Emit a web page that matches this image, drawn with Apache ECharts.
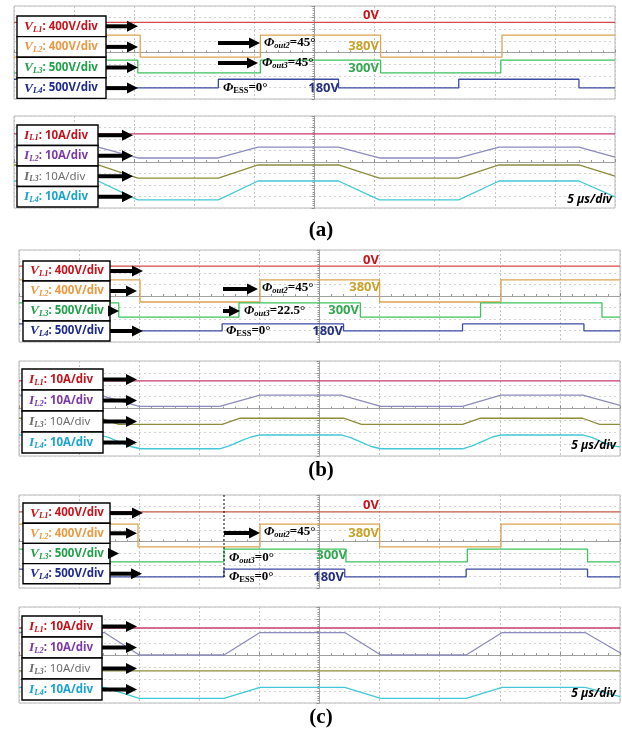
<!DOCTYPE html>
<html><head><meta charset="utf-8">
<script src="https://cdn.jsdelivr.net/npm/echarts@6/dist/echarts.min.js"></script>
<style>html,body{margin:0;padding:0;background:#fff}#c{width:622px;height:733px}</style>
</head><body><div id="c"></div>
<script>
// ===== DATA: time in µs (5 µs/div, 10 div), level in divisions from the bottom of each screen (8 div) =====
// ---- (a) voltages (step traces: transition times / levels) ----
const A_VL1_t = [0, 50];                               const A_VL1_v = [6.6, 6.6];
const A_VL2_t = [0, 0.4, 10.5, 20.5, 30.5, 40.6, 50];  const A_VL2_v = [3.6, 5.5, 3.6, 5.5, 3.6, 5.5, 5.5];
const A_VL3_t = [0, 0.4, 10.3, 20.5, 30.5, 40.5, 50];  const A_VL3_v = [2.25, 3.35, 2.25, 3.35, 2.25, 3.35, 3.35];
const A_VL4_t = [0, 7.0, 17.0, 27.0, 37.0, 47.0, 50];  const A_VL4_v = [1.7, 0.95, 1.7, 0.95, 1.7, 0.95, 0.95];
// ---- (a) currents (corner points) ----
const A_IL1_t = [0, 50];  const A_IL1_v = [6.45, 6.45];
const A_IL_t  = [0, 7.0, 10.3, 17.0, 20.3, 27.0, 30.4, 37.0, 40.35, 47.0, 50];
const A_IL2_v = [5.3, 5.3, 4.35, 4.35, 5.3, 5.3, 4.35, 4.35, 5.3, 5.3, 4.43];
const A_IL3_v = [3.74, 3.74, 2.6, 2.6, 3.74, 3.74, 2.6, 2.6, 3.74, 3.74, 2.78];
const A_IL4_v = [2.35, 2.35, 0.7, 0.7, 2.35, 2.35, 0.7, 0.7, 2.35, 2.35, 0.96];

// ---- (b) voltages ----
const B_VL1_t = [0, 50];                               const B_VL1_v = [6.6, 6.6];
const B_VL2_t = [0, 10.07, 20.05, 30.0, 40.1, 50];     const B_VL2_v = [5.4, 3.48, 5.4, 3.48, 5.4, 5.4];
const B_VL3_t = [0, 8.3, 18.3, 28.4, 38.4, 48.5, 50];  const B_VL3_v = [3.4, 2.17, 3.4, 2.17, 3.4, 2.17, 2.17];
const B_VL4_t = [0, 6.9, 16.9, 27.0, 36.9, 47.0, 50];  const B_VL4_v = [1.57, 0.96, 1.57, 0.96, 1.57, 0.96, 0.96];
// ---- (b) currents ----
const B_IL1_t = [0, 50];  const B_IL1_v = [6.32, 6.32];
const B_IL2_t = [0, 6.7, 10.0, 16.7, 20.05, 26.8, 30.1, 36.9, 40.1, 46.9, 50];
const B_IL2_v = [5.13, 5.13, 4.18, 4.18, 5.13, 5.13, 4.18, 4.18, 5.13, 5.13, 4.27];
const B_IL3_t = [0, 6.8, 8.3, 16.9, 18.4, 27.0, 28.5, 36.9, 38.4, 46.9, 48.3, 50];
const B_IL3_v = [3.18, 3.18, 2.66, 2.66, 3.18, 3.18, 2.66, 2.66, 3.18, 3.18, 2.66, 2.66];
const B_IL4_t = [0, 6.7, 7.5, 8.5, 9.3, 10.1, 16.7, 17.5, 18.5, 19.3, 20.05, 26.8, 27.6, 28.6, 29.3, 30.1, 36.9, 37.7, 38.7, 39.4, 40.1, 46.9, 47.7, 48.7, 49.4, 50];
const B_IL4_v = [1.77, 1.77, 1.55, 1.1, 0.8, 0.61, 0.61, 0.85, 1.3, 1.6, 1.77, 1.77, 1.55, 1.1, 0.8, 0.61, 0.61, 0.85, 1.3, 1.6, 1.77, 1.77, 1.55, 1.1, 0.85, 0.76];

// ---- (c) voltages ----
const C_VL1_t = [0, 50];                               const C_VL1_v = [6.54, 6.54];
const C_VL2_t = [0, 9.9, 20.05, 30.0, 40.1, 50];       const C_VL2_v = [5.5, 3.53, 5.5, 3.53, 5.5, 5.5];
const C_VL3_t = [0, 7.2, 17.05, 27.2, 37.3, 47.3, 50]; const C_VL3_v = [3.35, 2.24, 3.35, 2.24, 3.35, 2.24, 2.24];
const C_VL4_t = [0, 7.1, 17.05, 27.1, 37.2, 47.3, 50]; const C_VL4_v = [1.63, 0.95, 1.63, 0.95, 1.63, 0.95, 0.95];
// ---- (c) currents ----
const C_IL1_t = [0, 50];  const C_IL1_v = [6.25, 6.25];
const C_IL_t  = [0, 7.1, 10.0, 17.05, 20.05, 27.1, 30.1, 37.2, 40.2, 47.1, 50];
const C_IL2_v = [5.87, 5.87, 4.0, 4.0, 5.87, 5.87, 4.0, 4.0, 5.87, 5.87, 4.19];
const C_IL4_v = [1.3, 1.3, 0.38, 0.38, 1.3, 1.3, 0.38, 0.38, 1.3, 1.3, 0.54];
const C_IL3_t = [0, 17.3, 17.45, 17.6, 27.4, 27.55, 27.7, 37.4, 37.55, 37.7, 47.5, 47.65, 47.8, 50];
const C_IL3_v = [2.67, 2.67, 2.8, 2.67, 2.67, 2.55, 2.67, 2.67, 2.8, 2.67, 2.67, 2.55, 2.67, 2.67];

// ---- texts ----
const LEG_V = [['V','L1',': 400V/div'],['V','L2',': 400V/div'],['V','L3',': 500V/div'],['V','L4',': 500V/div']];
const LEG_I = [['I','L1',': 10A/div'],['I','L2',': 10A/div'],['I','L3',': 10A/div'],['I','L4',': 10A/div']];
const TIME_DIV = '5 µs/div';
const PANEL_TAGS = ['(a)', '(b)', '(c)'];

// ===== STYLE / LAYOUT =====
const COL_V_TXT = ['#c8141c', '#ea9a45', '#22a04a', '#1f2a8e'];
const COL_I_TXT = ['#c0141c', '#7b3aa6', '#6e6e6e', '#1aa3cf'];
const COL_V_LINE = ['#d54a4a', '#dca352', '#3cc25e', '#3d4aa2'];
const COL_I_LINE = ['#c83a6e', '#8c8cbc', '#8c8c3c', '#42c8d6'];

const grids = [
  {left: 14, top: 6,   width: 601, height: 93},
  {left: 14, top: 116, width: 601, height: 92},
  {left: 19, top: 250, width: 601, height: 92},
  {left: 19, top: 361, width: 601, height: 95},
  {left: 19, top: 495, width: 601, height: 93},
  {left: 19, top: 607, width: 601, height: 96}
];

const xAxes = [], yAxes = [];
grids.forEach((g, i) => {
  xAxes.push({gridIndex: i, type: 'value', min: 0, max: 50, interval: 5, position: 'top',
    axisLine: {show: false, onZero: false}, axisTick: {show: false}, axisLabel: {show: false},
    splitLine: {show: true, lineStyle: {color: '#c4c4c4', type: [2, 2], width: 1}}});
  xAxes.push({gridIndex: i, type: 'value', min: -25, max: 25, interval: 5, position: 'bottom',
    axisLine: {show: true, onZero: true, onZeroAxisIndex: 2 * i + 1, lineStyle: {color: '#a0a0a0', width: 1}},
    axisTick: {show: true, inside: true, length: 3, lineStyle: {color: '#909090'}},
    minorTick: {show: true, splitNumber: 5, length: 2, lineStyle: {color: '#9a9a9a'}},
    axisLabel: {show: false}, splitLine: {show: false}});
  yAxes.push({gridIndex: i, type: 'value', min: 0, max: 8, interval: 1, position: 'left',
    axisLine: {show: false, onZero: false}, axisTick: {show: false}, axisLabel: {show: false},
    splitLine: {show: true, lineStyle: {color: '#d2d2d2', type: [2, 3], width: 1}}});
  yAxes.push({gridIndex: i, type: 'value', min: -4, max: 4, interval: 1, position: 'right',
    axisLine: {show: true, onZero: true, onZeroAxisIndex: 2 * i + 1, lineStyle: {color: '#a0a0a0', width: 1}},
    axisTick: {show: true, inside: true, length: 3, lineStyle: {color: '#909090'}},
    minorTick: {show: true, splitNumber: 5, length: 2, lineStyle: {color: '#9a9a9a'}},
    axisLabel: {show: false}, splitLine: {show: false}});
});

function zip(t, v) { return t.map((x, k) => [x, v[k]]); }
function trace(gi, t, v, color, step) {
  return {type: 'line', xAxisIndex: 2 * gi, yAxisIndex: 2 * gi, data: zip(t, v),
    step: step ? 'end' : false, showSymbol: false, symbol: 'none', silent: true, z: 3,
    lineStyle: {color: color, width: 1.3}};
}

const series = [
  trace(0, A_VL1_t, A_VL1_v, COL_V_LINE[0], true),
  trace(0, A_VL2_t, A_VL2_v, COL_V_LINE[1], true),
  trace(0, A_VL3_t, A_VL3_v, COL_V_LINE[2], true),
  trace(0, A_VL4_t, A_VL4_v, COL_V_LINE[3], true),
  trace(1, A_IL1_t, A_IL1_v, COL_I_LINE[0]),
  trace(1, A_IL_t, A_IL2_v, COL_I_LINE[1]),
  trace(1, A_IL_t, A_IL3_v, COL_I_LINE[2]),
  trace(1, A_IL_t, A_IL4_v, COL_I_LINE[3]),
  trace(2, B_VL1_t, B_VL1_v, COL_V_LINE[0], true),
  trace(2, B_VL2_t, B_VL2_v, COL_V_LINE[1], true),
  trace(2, B_VL3_t, B_VL3_v, COL_V_LINE[2], true),
  trace(2, B_VL4_t, B_VL4_v, COL_V_LINE[3], true),
  trace(3, B_IL1_t, B_IL1_v, COL_I_LINE[0]),
  trace(3, B_IL2_t, B_IL2_v, COL_I_LINE[1]),
  trace(3, B_IL3_t, B_IL3_v, COL_I_LINE[2]),
  trace(3, B_IL4_t, B_IL4_v, COL_I_LINE[3]),
  trace(4, C_VL1_t, C_VL1_v, '#c25a44', true),
  trace(4, C_VL2_t, C_VL2_v, COL_V_LINE[1], true),
  trace(4, C_VL3_t, C_VL3_v, COL_V_LINE[2], true),
  trace(4, C_VL4_t, C_VL4_v, COL_V_LINE[3], true),
  trace(5, C_IL1_t, C_IL1_v, COL_I_LINE[0]),
  trace(5, C_IL_t, C_IL2_v, COL_I_LINE[1]),
  trace(5, C_IL3_t, C_IL3_v, COL_I_LINE[2]),
  trace(5, C_IL_t, C_IL4_v, COL_I_LINE[3])
];

// ===== decorations =====
const G = [];
const SERIF = '"Liberation Serif", "DejaVu Serif", serif';
const SANS = '"Noto Sans", "Liberation Sans", sans-serif';

function arrow(x1, x2, y) {
  G.push({type: 'rect', z: 60, silent: true, shape: {x: x1, y: y - 2, width: x2 - x1 - 8, height: 4}, style: {fill: '#000'}});
  G.push({type: 'polygon', z: 60, silent: true, shape: {points: [[x2 - 11, y - 5.5], [x2, y], [x2 - 11, y + 5.5]]}, style: {fill: '#000'}});
}
function legend(items, cols, x, top, w, h, tips) {
  items.forEach((it, k) => {
    const y = top + k * h;
    G.push({type: 'rect', z: 55, silent: true, shape: {x: x, y: y, width: w, height: h},
      style: {fill: '#fff', stroke: '#000', lineWidth: 1.4}});
    const normal = (it[0] === 'I' && it[1] === 'L3');
    G.push({type: 'text', z: 58, silent: true, x: x + 7, y: y + h / 2,
      style: {text: '{a|' + it[0] + '}{b|' + it[1] + '}{c|' + it[2] + '}', verticalAlign: 'middle', align: 'left',
        rich: {
          a: {fontFamily: SERIF, fontStyle: 'italic', fontWeight: 'bold', fontSize: 13.5, fill: cols[k], lineHeight: 15},
          b: {fontFamily: SERIF, fontStyle: 'italic', fontWeight: 'bold', fontSize: 8.5, fill: cols[k], verticalAlign: 'bottom', lineHeight: 10},
          c: {fontFamily: SANS, fontWeight: normal ? 'normal' : 'bold', fontSize: 11.5, fill: cols[k], lineHeight: 15}
        }}});
    arrow(x + w, tips[k], y + h / 2);
  });
}
function phi(x, y, sub, rest, upSub) {
  G.push({type: 'text', z: 58, silent: true, x: x, y: y,
    style: {text: '{a|Φ}{b|' + sub + '}{c|' + rest + '}', verticalAlign: 'middle', align: 'left',
      rich: {
        a: {fontFamily: SERIF, fontStyle: 'italic', fontWeight: 'bold', fontSize: 13, fill: '#000', lineHeight: 15},
        b: {fontFamily: SERIF, fontStyle: upSub ? 'normal' : 'italic', fontWeight: 'bold', fontSize: 8.5, fill: '#000', verticalAlign: 'bottom', lineHeight: 10},
        c: {fontFamily: SERIF, fontWeight: 'bold', fontSize: 13, fill: '#000', lineHeight: 15}
      }}});
}
function label(txt, xr, y, col, size) {
  G.push({type: 'text', z: 58, silent: true, x: xr, y: y,
    style: {text: txt, align: 'right', verticalAlign: 'middle', font: 'bold ' + (size || 13) + 'px ' + SANS, fill: col}});
}
function timeDiv(xr, y) {
  G.push({type: 'text', z: 58, silent: true, x: xr, y: y,
    style: {text: TIME_DIV, align: 'right', verticalAlign: 'middle', font: 'italic bold 12px ' + SANS, fill: '#000'}});
}
function tag(txt, y) {
  G.push({type: 'text', z: 58, silent: true, x: 321, y: y,
    style: {text: txt, align: 'center', verticalAlign: 'middle', font: 'bold 21px ' + SERIF, fill: '#000'}});
}

// (a)
legend(LEG_V, COL_V_TXT, 17, 16, 89, 20.6, [138, 138, 138, 138]);
legend(LEG_I, COL_I_TXT, 17, 125, 81, 20.5, [133, 133, 133, 133]);
arrow(218, 260, 43); phi(264, 43, 'out2', '=45°');
arrow(218, 258, 63); phi(262, 63, 'out3', '=45°');
phi(223, 88, 'ESS', '=0°', true);
label('0V', 379, 15, '#c8141c');
label('380V', 379, 46, '#c9a22c');
label('300V', 379, 68, '#34a850');
label('180V', 339, 88, '#27327e');
timeDiv(612, 200);
tag(PANEL_TAGS[0], 231);

// (b)
legend(LEG_V, COL_V_TXT, 23, 261, 87, 20, [143, 137, 119, 143]);
legend(LEG_I, COL_I_TXT, 22, 369, 81, 21, [137, 137, 137, 137]);
arrow(223, 258, 289); phi(262, 288, 'out2', '=45°');
arrow(223, 240, 311); phi(244, 311, 'out3', '=22.5°');
phi(226, 331, 'ESS', '=0°', true);
label('0V', 379, 260, '#c8141c');
label('380V', 380, 287, '#c9a22c');
label('300V', 359, 310, '#34a850');
label('180V', 343, 331, '#27327e');
timeDiv(616, 446);
tag(PANEL_TAGS[1], 471);

// (c)
legend(LEG_V, COL_V_TXT, 23, 503, 87, 20.2, [143, 137, 119, 142]);
legend(LEG_I, COL_I_TXT, 22, 616, 80, 21, [137, 137, 137, 137]);
G.push({type: 'line', z: 57, silent: true, shape: {x1: 224, y1: 495, x2: 224, y2: 577}, style: {stroke: '#000', lineWidth: 1, lineDash: [2, 2]}});
arrow(224, 260, 533); phi(264, 532, 'out2', '=45°');
phi(229, 558, 'out3', '=0°');
phi(229, 577, 'ESS', '=0°', true);
label('0V', 379, 505, '#c8141c');
label('380V', 379, 533, '#c9a22c');
label('300V', 347, 555, '#34a850');
label('180V', 344, 577, '#27327e');
timeDiv(616, 694);
tag(PANEL_TAGS[2], 718);

const chart = echarts.init(document.getElementById('c'), null, {renderer: 'canvas', width: 622, height: 733});
chart.setOption({
  animation: false,
  backgroundColor: '#fff',
  grid: grids.map(g => Object.assign({show: true, borderColor: '#b8b8b8', borderWidth: 1, backgroundColor: 'transparent'}, g)),
  xAxis: xAxes,
  yAxis: yAxes,
  series: series,
  graphic: {elements: G}
});
</script>
</body></html>
